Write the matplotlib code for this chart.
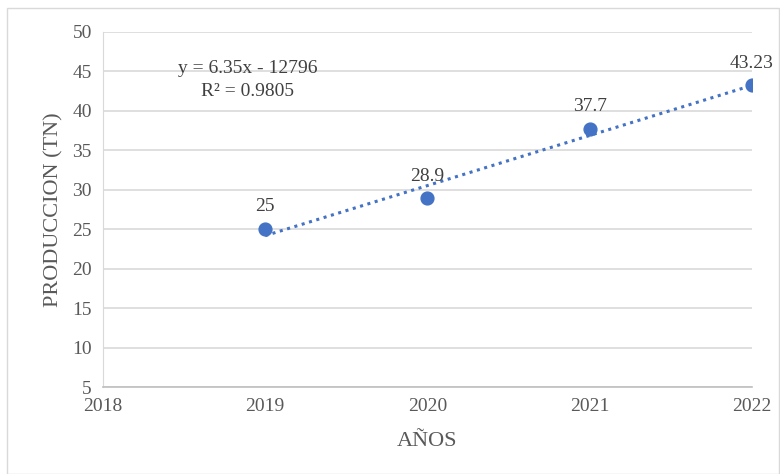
import matplotlib.pyplot as plt
import numpy as np
from matplotlib.patches import Rectangle

years = [2019, 2020, 2021, 2022]
produccion = [25, 28.9, 37.7, 43.23]
labels = ['25', '28.9', '37.7', '43.23']
ecuacion = 'y = 6.35x - 12796'
r2_text = 'R² = 0.9805'

plt.rcParams['font.family'] = ['Liberation Serif', 'DejaVu Serif']
blue = '#4472C4'
txt = '#595959'

fig = plt.figure(figsize=(7.8, 4.74), dpi=100)
ax = fig.add_axes([0.132, 0.1835, 0.832, 0.749])

# borde exterior del grafico
fig.patches.append(Rectangle((0.009, 0.0), 0.99, 0.983, transform=fig.transFigure,
                             fill=False, edgecolor='#d9d9d9', linewidth=1))

# linea de tendencia
m, b = np.polyfit(years, produccion, 1)
xt = np.array([years[0], years[-1]])
ax.plot(xt, m * xt + b, linestyle=(0, (1, 1.5)), color=blue, linewidth=2.2, zorder=2)

ax.scatter(years, produccion, s=85, color=blue, zorder=3)
for x, y, lab in zip(years, produccion, labels):
    ax.annotate(lab, (x, y), xytext=(0, 10), textcoords='offset points',
                ha='center', va='bottom', fontsize=14, color='#404040')

ax.text(2018.89, 45.4, ecuacion, ha='center', va='center', fontsize=14, color='#404040')
ax.text(2018.89, 42.5, r2_text, ha='center', va='center', fontsize=14, color='#404040')

ax.set_xlim(2018, 2022)
ax.set_ylim(5, 50)
ax.set_xticks([2018, 2019, 2020, 2021, 2022])
ax.set_yticks(range(5, 51, 5))
ax.tick_params(length=0, labelsize=14, labelcolor=txt, pad=8)
ax.grid(axis='y', color='#d9d9d9', linewidth=1.2)
ax.set_axisbelow(True)
for s in ['top', 'right']:
    ax.spines[s].set_visible(False)
ax.spines['left'].set_color('#d9d9d9')
ax.spines['bottom'].set_color('#bfbfbf')
ax.spines['bottom'].set_linewidth(1.2)

ax.set_xlabel('AÑOS', fontsize=16, color=txt, labelpad=12)
ax.set_ylabel('PRODUCCION (TN)', fontsize=16, color=txt, labelpad=6)

fig.savefig('out.png', dpi=100)
